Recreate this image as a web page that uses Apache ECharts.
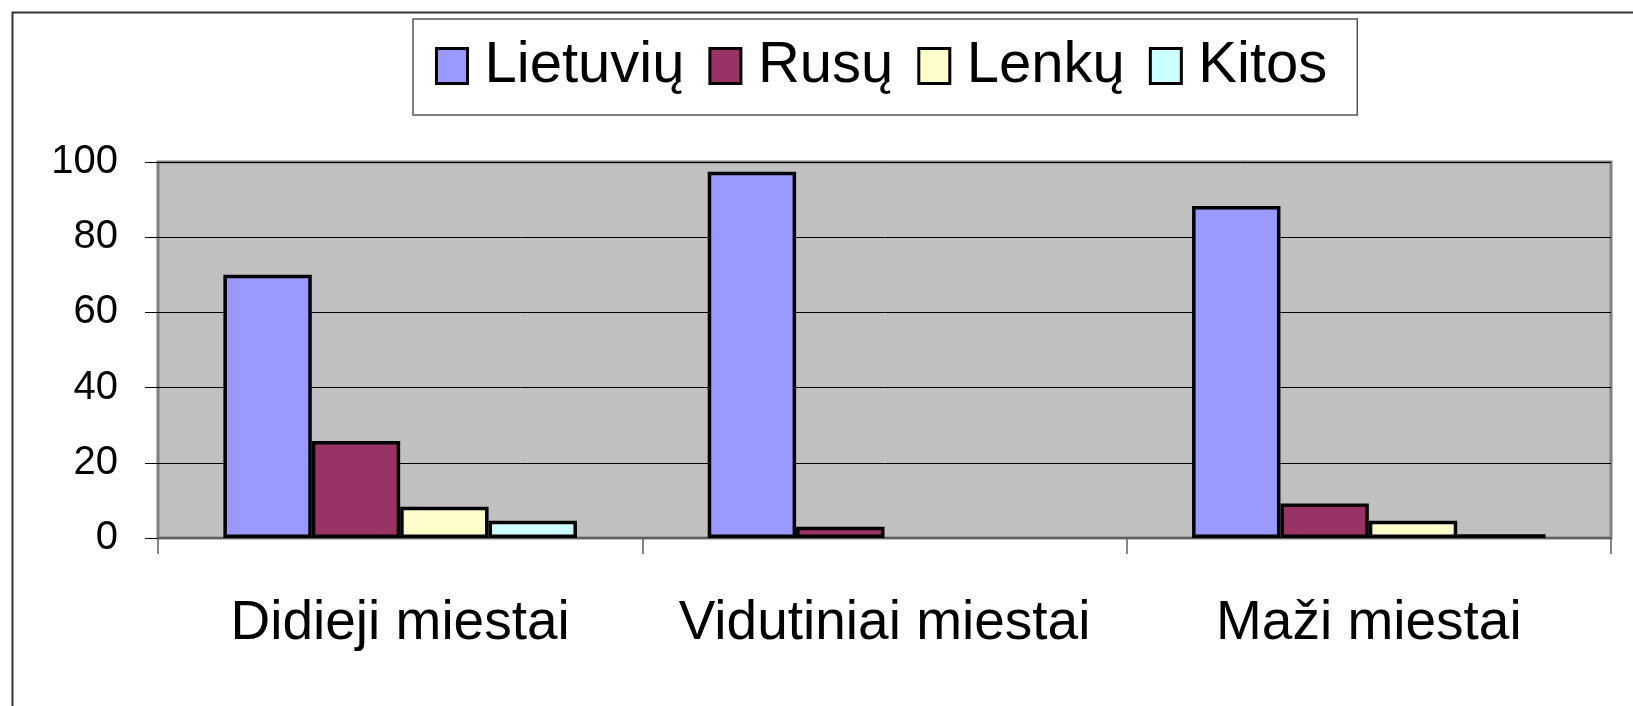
<!DOCTYPE html>
<html>
<head>
<meta charset="utf-8">
<script src="https://cdn.jsdelivr.net/npm/echarts@6/dist/echarts.min.js"></script>
<style>
html,body{margin:0;padding:0;background:#fff;}
#chart{width:1633px;height:706px;}
</style>
</head>
<body>
<div id="chart"></div>
<script>
const categories = ['Didieji miestai', 'Vidutiniai miestai', 'Maži miestai'];
const seriesNames = ['Lietuvių', 'Rusų', 'Lenkų', 'Kitos'];
const lietuviu = [70, 97.4, 88.3];
const rusu = [25.8, 3, 9.2];
const lenku = [8.3, null, 4.6];
const kitos = [4.6, null, 1];
const yTicks = [0, 20, 40, 60, 80, 100];

const colors = ['#9999FF', '#993366', '#FFFFCC', '#CCFFFF'];
const values = [lietuviu, rusu, lenku, kitos];
const FONT = '"Liberation Sans", Arial, sans-serif';

const chart = echarts.init(document.getElementById('chart'), null, {renderer: 'canvas'});
chart.setOption({
  animation: false,
  backgroundColor: '#ffffff',
  graphic: [{
    type: 'rect', left: 10, top: 10, silent: true,
    shape: {x: 0, y: 0, width: 1700, height: 800},
    style: {fill: 'none', stroke: '#333333', lineWidth: 2}
  }],
  legend: {
    left: 413, top: 19,
    padding: [17, 30, 19, 22],
    itemGap: 24,
    icon: 'rect',
    itemWidth: 31, itemHeight: 35,
    borderColor: '#555555', borderWidth: 1.5,
    backgroundColor: '#ffffff',
    textStyle: {fontSize: 58, lineHeight: 60, color: '#000', fontFamily: FONT, padding: [0, 0, 0, 12]},
    itemStyle: {borderColor: '#000', borderWidth: 3},
    data: seriesNames
  },
  grid: {
    left: 158, right: 22, top: 162, bottom: 168,
    show: true, backgroundColor: '#C0C0C0', borderColor: '#808080', borderWidth: 3
  },
  xAxis: {
    type: 'category',
    data: categories,
    axisLine: {show: true, lineStyle: {color: '#606060', width: 2}},
    axisTick: {show: true, length: 16, lineStyle: {color: '#606060', width: 1.5}},
    axisLabel: {interval: 0, fontSize: 55, color: '#000', fontFamily: FONT, margin: 58}
  },
  yAxis: {
    type: 'value', min: 0, max: 100, interval: 20,
    axisLine: {show: false},
    axisTick: {show: true, length: 13, lineStyle: {color: '#000', width: 1}},
    splitLine: {show: true, lineStyle: {color: '#000', width: 1}},
    axisLabel: {
      fontSize: 40, color: '#000', fontFamily: FONT, margin: 40,
      formatter: v => yTicks.includes(v) ? String(v) : ''
    }
  },
  series: seriesNames.map((name, i) => ({
    name: name,
    type: 'bar',
    data: values[i],
    barGap: '0%',
    barCategoryGap: '27%',
    itemStyle: {color: colors[i], borderColor: '#000', borderWidth: 3.5}
  }))
});
</script>
</body>
</html>
